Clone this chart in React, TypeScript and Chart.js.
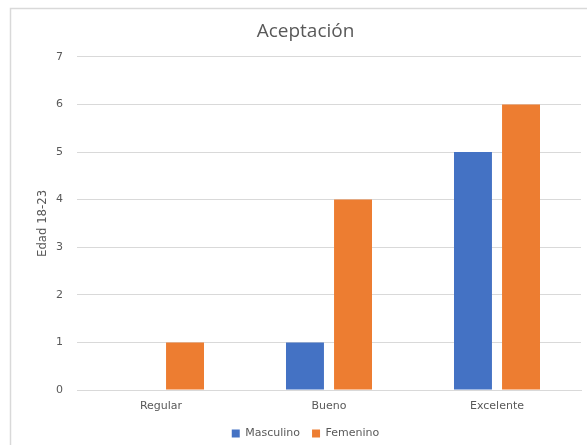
import React, { useEffect, useRef } from "react";
import { Chart, registerables } from "chart.js";

Chart.register(...registerables);

const chartTitle = "Aceptación";
const axisTitle = "Edad 18-23";
const categories = ["Regular", "Bueno", "Excelente"];
const masculino = [0, 1, 5];
const femenino = [1, 4, 6];
const seriesNames = ["Masculino", "Femenino"];

const TEXT = "#595959";
const GRID = "#d9d9d9";
const TITLE_FONT = "'Open Sans', 'Noto Sans', sans-serif";
const FONT = "'DejaVu Sans', sans-serif";

export default function App() {
  const ref = useRef<HTMLCanvasElement | null>(null);
  useEffect(() => {
    if (!ref.current) return;
    const framePlugin = {
      id: "frame",
      beforeDraw(chart: any) {
        const ctx = chart.ctx;
        ctx.save();
        ctx.fillStyle = "#ffffff";
        ctx.fillRect(0, 0, chart.width, chart.height);
        ctx.strokeStyle = GRID;
        ctx.lineWidth = 1.5;
        ctx.beginPath();
        ctx.moveTo(10.5, chart.height);
        ctx.lineTo(10.5, 8.5);
        ctx.lineTo(chart.width, 8.5);
        ctx.stroke();
        ctx.restore();
      },
    };
    const chart = new Chart(ref.current, {
      type: "bar",
      data: {
        labels: categories,
        datasets: [
          {
            label: seriesNames[0],
            data: masculino,
            backgroundColor: "#4472C4",
            categoryPercentage: 0.572,
            barPercentage: 0.79,
          },
          {
            label: seriesNames[1],
            data: femenino,
            backgroundColor: "#ED7D31",
            categoryPercentage: 0.572,
            barPercentage: 0.79,
          },
        ],
      },
      options: {
        animation: false,
        responsive: true,
        maintainAspectRatio: false,
        layout: { padding: { left: 30, right: 6, top: 9, bottom: -4 } },
        plugins: {
          title: {
            display: true,
            text: chartTitle,
            color: TEXT,
            font: { family: TITLE_FONT, size: 19, weight: "normal", lineHeight: 1.2 },
            padding: { top: 11, bottom: 14 },
          },
          tooltip: { enabled: false },
          legend: {
            position: "bottom",
            labels: {
              color: TEXT,
              font: { family: FONT, size: 11 },
              boxWidth: 8,
              boxHeight: 8,
              padding: 12,
            },
          },
        },
        scales: {
          x: {
            afterFit(scale: any) {
              scale.height = 26;
            },
            grid: { display: false, drawTicks: false },
            border: { display: true, color: GRID, width: 1 },
            ticks: { color: TEXT, font: { family: FONT, size: 11 }, padding: 10 },
          },
          y: {
            min: 0,
            max: 7,
            afterFit(scale: any) {
              scale.width = 47;
            },
            ticks: { stepSize: 1, color: TEXT, font: { family: FONT, size: 11 }, padding: 14 },
            grid: { color: GRID, drawTicks: false },
            border: { display: false },
            title: {
              display: true,
              text: axisTitle,
              color: TEXT,
              font: { family: "'Liberation Sans Narrow', 'DejaVu Sans Condensed', sans-serif", size: 13 },
              padding: { top: 5, bottom: 0 },
            },
          },
        },
      },
      plugins: [framePlugin],
    } as any);
    return () => chart.destroy();
  }, []);
  return (
    <div style={{ position: "fixed", left: 0, top: 0, width: 587, height: 445, background: "#fff" }}>
      <canvas ref={ref} />
    </div>
  );
}
